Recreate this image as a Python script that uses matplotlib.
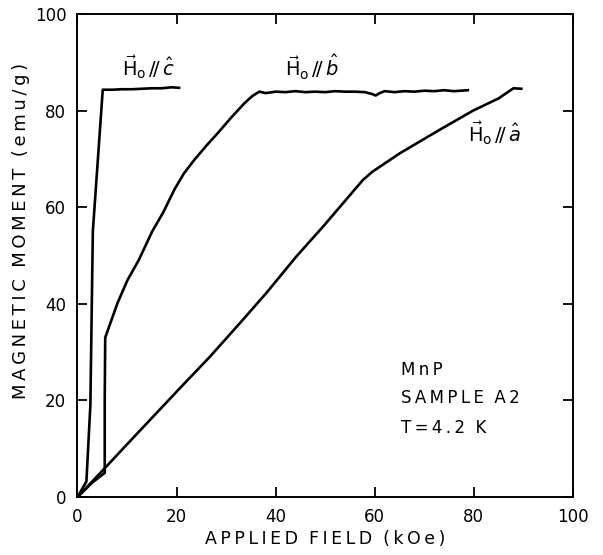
import matplotlib
matplotlib.use("Agg")
import matplotlib.pyplot as plt

# H || c
c_field = [0, 1.8, 2.6, 3.1, 5.1, 7, 9, 11, 13, 15, 17, 19, 20.5]
c_moment = [0, 3.2, 19, 55, 84.3, 84.3, 84.4, 84.4, 84.5, 84.6, 84.6, 84.8, 84.7]

# H || b
b_field = [0, 3, 5.5, 5.5, 5.6, 6.4, 8.1, 10.1, 12.4, 15.1, 17.3, 19.6, 21.5, 23.6, 26,
           28.3, 31, 33.7, 35.3, 36.7,
           38, 40, 42, 44, 46, 48, 50, 52, 54, 56, 58, 59.5, 60.2, 61, 62, 64, 66, 68,
           70, 72, 74, 76, 78.8]
b_moment = [0, 3.0, 5.0, 20, 33, 35.3, 40.2, 44.9, 49.1, 55, 58.9, 63.7, 67, 69.8, 72.7,
            75.3, 78.5, 81.5, 83.0, 83.9,
            83.6, 83.9, 83.8, 84.0, 83.8, 83.9, 83.8, 84.0, 83.9, 83.9, 83.8, 83.4, 83.1,
            83.6, 84.0, 83.8, 84.0, 83.9, 84.1, 84.0, 84.2, 84.0, 84.2]

# H || a
a_field = [0, 5, 10, 15.6, 21.3, 26.7, 32.8, 38.1, 44.2, 49.6, 57.6, 59.5, 65, 73.1,
           79.9, 85, 88, 89.6]
a_moment = [0, 5.4, 10.9, 17.0, 23.2, 29.0, 36.0, 42.2, 49.8, 56.0, 65.6, 67.3, 71.1,
            76.0, 80.0, 82.5, 84.6, 84.5]

ticks = [0, 20, 40, 60, 80, 100]
tick_labels = ["0", "20", "40", "60", "80", "100"]

plt.rcParams['font.family'] = ['DejaVu Sans']
plt.rcParams['mathtext.fontset'] = 'dejavusans'

THIN = "\u2009"


def spaced(s):
    return THIN.join(s)


fig = plt.figure(figsize=(6.03, 5.55), dpi=100)
ax = fig.add_axes([0.1285, 0.1045, 0.8215, 0.8705])

for xs, ys in [(c_field, c_moment), (b_field, b_moment), (a_field, a_moment)]:
    ax.plot(xs, ys, color='black', lw=1.9, solid_joinstyle='round')

ax.set_xlim(0, 100)
ax.set_ylim(0, 100)
ax.set_xticks(ticks)
ax.set_xticklabels(tick_labels)
ax.set_yticks(ticks)
ax.set_yticklabels(tick_labels)
ax.tick_params(direction='in', length=7, width=1.3, top=True, right=True,
               labelsize=12, pad=8, colors='black')
for s in ax.spines.values():
    s.set_linewidth(1.4)

ax.set_xlabel(spaced("APPLIED") + "  " + spaced("FIELD") + "  " + spaced("(kOe)"),
              fontsize=12.5, labelpad=3)
ax.set_ylabel(spaced("MAGNETIC") + "  " + spaced("MOMENT") + "  " + spaced("(emu/g)"),
              fontsize=13)
ax.yaxis.set_label_coords(-0.096, 0.55)

ax.text(14.3, 89, r"$\vec{\mathrm{H}}_{\mathrm{o}}\,/\!/\,\hat{c}$", fontsize=14,
        ha='center', va='center')
ax.text(47.3, 89, r"$\vec{\mathrm{H}}_{\mathrm{o}}\,/\!/\,\hat{b}$", fontsize=14,
        ha='center', va='center')
ax.text(84.2, 75.2, r"$\vec{\mathrm{H}}_{\mathrm{o}}\,/\!/\,\hat{a}$", fontsize=14,
        ha='center', va='center')

ax.text(65.4, 26.3, spaced("MnP"), fontsize=12, ha='left', va='center')
ax.text(65.4, 20.5, spaced("SAMPLE") + "  " + spaced("A2"), fontsize=12,
        ha='left', va='center')
ax.text(65.4, 14.2, "T" + THIN + "=" + THIN + spaced("4.2") + "  K", fontsize=12,
        ha='left', va='center')

fig.savefig("out.png", dpi=100)
